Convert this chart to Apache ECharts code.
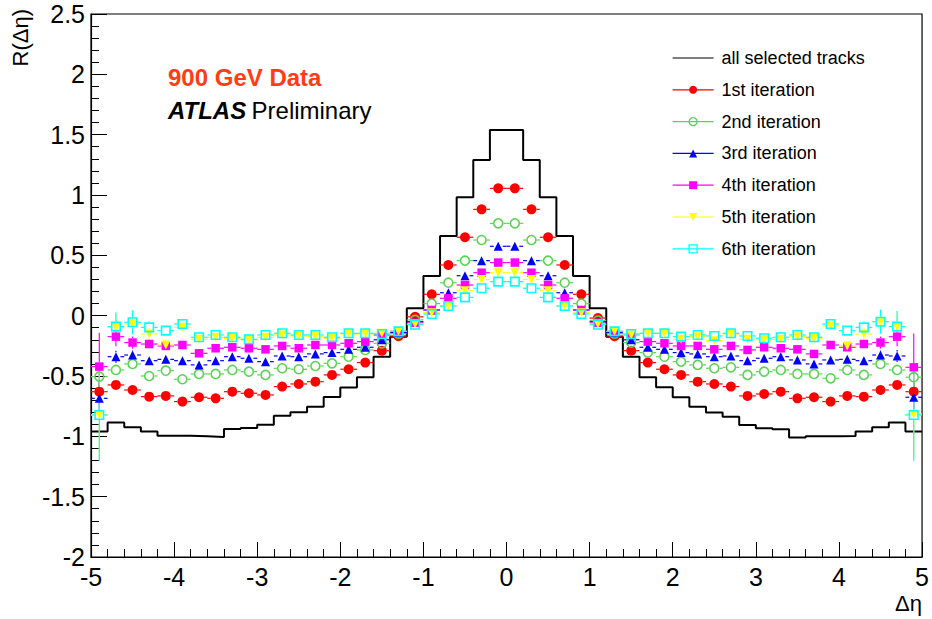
<!DOCTYPE html>
<html>
<head>
<meta charset="utf-8">
<script src="https://cdn.jsdelivr.net/npm/echarts@6/dist/echarts.min.js"></script>
<style>
html,body{margin:0;padding:0;background:#fff;}
#chart{width:932px;height:619px;}
</style>
</head>
<body>
<div id="chart"></div>
<script>
// ---------------- data ----------------
const binCenters = [-4.9,-4.7,-4.5,-4.3,-4.1,-3.9,-3.7,-3.5,-3.3,-3.1,-2.9,-2.7,-2.5,-2.3,-2.1,-1.9,-1.7,-1.5,-1.3,-1.1,-0.9,-0.7,-0.5,-0.3,-0.1,
                    0.1,0.3,0.5,0.7,0.9,1.1,1.3,1.5,1.7,1.9,2.1,2.3,2.5,2.7,2.9,3.1,3.3,3.5,3.7,3.9,4.1,4.3,4.5,4.7,4.9];
const binWidth = 0.2;

const allTracks = [-0.96,-0.885,-0.925,-0.96,-0.995,-0.995,-1.0,-1.005,-0.94,-0.93,-0.905,-0.83,-0.80,-0.755,-0.675,-0.595,-0.51,-0.34,-0.174,0.061,0.329,0.66,0.981,1.29,1.538,
                   1.538,1.29,0.981,0.66,0.329,0.061,-0.174,-0.34,-0.51,-0.593,-0.676,-0.754,-0.803,-0.837,-0.906,-0.933,-0.941,-1.01,-1.0,-1.0,-0.997,-0.96,-0.925,-0.886,-0.96];

const iter1 = [-0.63,-0.574,-0.616,-0.671,-0.665,-0.712,-0.676,-0.685,-0.63,-0.643,-0.657,-0.588,-0.566,-0.547,-0.491,-0.444,-0.389,-0.29,-0.17,-0.01,0.177,0.42,0.65,0.881,1.055,
               1.055,0.881,0.65,0.42,0.177,-0.02,-0.17,-0.29,-0.389,-0.444,-0.491,-0.547,-0.566,-0.588,-0.665,-0.649,-0.63,-0.685,-0.676,-0.712,-0.665,-0.671,-0.616,-0.574,-0.63];
const iter2 = [-0.505,-0.45,-0.40,-0.50,-0.456,-0.527,-0.483,-0.483,-0.45,-0.464,-0.491,-0.436,-0.444,-0.417,-0.395,-0.34,-0.284,-0.229,-0.15,-0.035,0.10,0.273,0.456,0.627,0.765,
               0.765,0.627,0.456,0.273,0.10,-0.04,-0.15,-0.223,-0.306,-0.34,-0.381,-0.408,-0.436,-0.428,-0.491,-0.464,-0.45,-0.483,-0.483,-0.519,-0.45,-0.491,-0.40,-0.45,-0.51];
const iter3 = [-0.685,-0.34,-0.326,-0.373,-0.362,-0.373,-0.408,-0.373,-0.34,-0.353,-0.381,-0.334,-0.34,-0.317,-0.306,-0.279,-0.262,-0.20,-0.14,-0.05,0.047,0.19,0.331,0.456,0.575,
               0.575,0.456,0.331,0.19,0.047,-0.05,-0.14,-0.20,-0.262,-0.279,-0.306,-0.317,-0.34,-0.334,-0.373,-0.353,-0.34,-0.367,-0.40,-0.367,-0.362,-0.373,-0.326,-0.334,-0.676];
const iter4 = [-0.422,-0.174,-0.223,-0.235,-0.251,-0.243,-0.312,-0.27,-0.262,-0.27,-0.279,-0.251,-0.27,-0.243,-0.243,-0.229,-0.215,-0.16,-0.13,-0.06,0.047,0.144,0.254,0.356,0.44,
               0.44,0.356,0.254,0.144,0.047,-0.06,-0.13,-0.16,-0.215,-0.229,-0.251,-0.251,-0.279,-0.251,-0.284,-0.262,-0.27,-0.279,-0.317,-0.243,-0.262,-0.235,-0.223,-0.174,-0.428];
const iter5 = [-0.823,-0.097,-0.069,-0.152,-0.243,-0.097,-0.196,-0.179,-0.19,-0.2,-0.179,-0.16,-0.168,-0.174,-0.187,-0.152,-0.152,-0.146,-0.13,-0.07,0.025,0.08,0.207,0.30,0.356,
               0.356,0.30,0.207,0.08,0.025,-0.07,-0.13,-0.16,-0.146,-0.146,-0.196,-0.174,-0.207,-0.152,-0.196,-0.2,-0.196,-0.174,-0.19,-0.085,-0.251,-0.152,-0.05,-0.091,-0.815];
const iter6 = [-0.823,-0.091,-0.055,-0.097,-0.124,-0.069,-0.179,-0.16,-0.179,-0.196,-0.16,-0.146,-0.16,-0.16,-0.179,-0.146,-0.146,-0.152,-0.13,-0.075,0.014,0.08,0.152,0.227,0.282,
               0.282,0.227,0.152,0.08,0.014,-0.075,-0.13,-0.152,-0.146,-0.146,-0.174,-0.16,-0.168,-0.146,-0.168,-0.187,-0.179,-0.16,-0.179,-0.069,-0.124,-0.097,-0.05,-0.091,-0.823];

// vertical (statistical) errors per bin
const err1 = [0.08,0.03,0.02,0.02,0.02,0.02,0.02,0.02,0.02,0.02,0.02,0.02,0.02,0.02,0.02,0.02,0.02,0.02,0.02,0.02,0.02,0.02,0.02,0.02,0.02,
              0.02,0.02,0.02,0.02,0.02,0.02,0.02,0.02,0.02,0.02,0.02,0.02,0.02,0.02,0.02,0.02,0.02,0.02,0.02,0.02,0.02,0.02,0.02,0.03,0.08];
const err2 = [0.10,0.04,0.03,0.02,0.02,0.02,0.02,0.02,0.02,0.02,0.02,0.02,0.02,0.02,0.02,0.02,0.02,0.02,0.02,0.02,0.02,0.02,0.02,0.02,0.02,
              0.02,0.02,0.02,0.02,0.02,0.02,0.02,0.02,0.02,0.02,0.02,0.02,0.02,0.02,0.02,0.02,0.02,0.02,0.02,0.02,0.02,0.02,0.03,0.04,0.10];
const err3 = [0.13,0.05,0.04,0.02,0.02,0.02,0.02,0.02,0.02,0.02,0.02,0.02,0.02,0.02,0.02,0.02,0.02,0.02,0.02,0.02,0.02,0.02,0.02,0.02,0.02,
              0.02,0.02,0.02,0.02,0.02,0.02,0.02,0.02,0.02,0.02,0.02,0.02,0.02,0.02,0.02,0.02,0.02,0.02,0.02,0.02,0.02,0.02,0.04,0.05,0.13];
const err4 = [0.28,0.08,0.05,0.03,0.02,0.02,0.02,0.02,0.02,0.02,0.02,0.02,0.02,0.02,0.02,0.02,0.02,0.02,0.02,0.02,0.02,0.02,0.02,0.02,0.02,
              0.02,0.02,0.02,0.02,0.02,0.02,0.02,0.02,0.02,0.02,0.02,0.02,0.02,0.02,0.02,0.02,0.02,0.02,0.02,0.02,0.02,0.03,0.05,0.08,0.28];
const err5 = [0.36,0.11,0.09,0.05,0.04,0.03,0.02,0.02,0.02,0.02,0.02,0.02,0.02,0.02,0.02,0.02,0.02,0.02,0.02,0.02,0.02,0.02,0.02,0.02,0.02,
              0.02,0.02,0.02,0.02,0.02,0.02,0.02,0.02,0.02,0.02,0.02,0.02,0.02,0.02,0.02,0.02,0.02,0.02,0.02,0.03,0.04,0.05,0.09,0.11,0.36];
const err6 = [0.38,0.12,0.10,0.05,0.04,0.03,0.02,0.02,0.02,0.02,0.02,0.02,0.02,0.02,0.02,0.02,0.02,0.02,0.02,0.02,0.02,0.02,0.02,0.02,0.02,
              0.02,0.02,0.02,0.02,0.02,0.02,0.02,0.02,0.02,0.02,0.02,0.02,0.02,0.02,0.02,0.02,0.02,0.02,0.02,0.03,0.04,0.05,0.10,0.13,0.38];

const xTickValues = [-5,-4,-3,-2,-1,0,1,2,3,4,5];
const yTickValues = [-2,-1.5,-1,-0.5,0,0.5,1,1.5,2,2.5];

const seriesNames = ['1st iteration','2nd iteration','3rd iteration','4th iteration','5th iteration','6th iteration'];
const histName = 'all selected tracks';

// ---------------- styles ----------------
const FONT = "'Liberation Sans', Arial, Helvetica, sans-serif";
const styles = [
  {color:'#ff0000', symbol:'circle',   size:10, hollow:false, rotate:0},
  {color:'#59d454', symbol:'circle',   size:9,  hollow:true,  rotate:0},
  {color:'#0000ff', symbol:'triangle', size:9,  hollow:false, rotate:0},
  {color:'#ff00ff', symbol:'rect',     size:8.5,hollow:false, rotate:0},
  {color:'#ffff00', symbol:'triangle', size:9,  hollow:false, rotate:180},
  {color:'#00ffff', symbol:'rect',     size:8.5,hollow:true,  rotate:0}
];
const values = [iter1, iter2, iter3, iter4, iter5, iter6];
const errors = [err1, err2, err3, err4, err5, err6];

// histogram as step line built from bin edges
const histData = binCenters.map((c, i) => [c - binWidth / 2, allTracks[i]]);
histData.push([binCenters[binCenters.length - 1] + binWidth / 2, allTracks[allTracks.length - 1]]);

const series = [{
  name: histName, type: 'line', step: 'end', data: histData,
  symbol: 'none', silent: true, animation: false,
  lineStyle: {color: '#000', width: 2}, itemStyle: {color: '#000'}, z: 2
}];

styles.forEach((st, k) => {
  const gap = st.size / 2 + (st.hollow ? 0.8 : 0);
  series.push({
    type: 'custom', silent: true, animation: false, clip: true, z: 3,
    data: binCenters.map((x, i) => [x, values[k][i], errors[k][i]]),
    encode: {x: 0, y: 1},
    renderItem: function (params, api) {
      const x = api.value(0), y = api.value(1), e = api.value(2);
      const c = api.coord([x, y]);
      const l = api.coord([x - binWidth / 2, y]);
      const r = api.coord([x + binWidth / 2, y]);
      const t = api.coord([x, y + e]);
      const b = api.coord([x, y - e]);
      const ch = [];
      const ls = {stroke: st.color, lineWidth: 1.2};
      if (c[0] - l[0] > gap) ch.push({type: 'line', shape: {x1: l[0], y1: c[1], x2: c[0] - gap, y2: c[1]}, style: ls});
      if (r[0] - c[0] > gap) ch.push({type: 'line', shape: {x1: c[0] + gap, y1: c[1], x2: r[0], y2: c[1]}, style: ls});
      if (c[1] - t[1] > gap) ch.push({type: 'line', shape: {x1: c[0], y1: t[1], x2: c[0], y2: c[1] - gap}, style: ls});
      if (b[1] - c[1] > gap) ch.push({type: 'line', shape: {x1: c[0], y1: c[1] + gap, x2: c[0], y2: b[1]}, style: ls});
      return {type: 'group', children: ch};
    }
  });
  series.push({
    name: seriesNames[k], type: 'line', silent: true, animation: false, z: 4,
    data: binCenters.map((x, i) => [x, values[k][i]]),
    symbol: st.symbol, symbolSize: st.size, symbolRotate: st.rotate, showSymbol: true,
    lineStyle: {opacity: 0, width: 0},
    itemStyle: st.hollow ? {color: 'rgba(255,255,255,0)', borderColor: st.color, borderWidth: 1.6}
                         : {color: st.color, borderWidth: 0}
  });
});

const legendData = [{name: histName, itemStyle: {opacity: 0}, lineStyle: {color: '#000', width: 1.2, opacity: 1}}]
  .concat(styles.map((st, k) => ({
    name: seriesNames[k],
    itemStyle: st.hollow ? {color: 'rgba(255,255,255,0)', borderColor: st.color, borderWidth: 1.3, opacity: 1}
                         : {color: st.color, borderWidth: 0, opacity: 1},
    lineStyle: {color: st.color, width: 1.2, opacity: 1}
  })));

const chart = echarts.init(document.getElementById('chart'), null, {renderer: 'svg'});
chart.setOption({
  animation: false,
  backgroundColor: '#fff',
  grid: {left: 91, right: 8, top: 14, bottom: 62, show: true, borderColor: '#000', borderWidth: 1.2, backgroundColor: 'transparent'},
  xAxis: {
    type: 'value', min: xTickValues[0], max: xTickValues[xTickValues.length - 1], interval: 1,
    axisLine: {show: true, onZero: false, lineStyle: {color: '#000', width: 1.2}},
    axisTick: {show: true, inside: true, length: 15, lineStyle: {color: '#000', width: 1}},
    minorTick: {show: true, splitNumber: 5, length: 8, lineStyle: {color: '#000', width: 1}},
    splitLine: {show: false},
    axisLabel: {color: '#000', fontSize: 25, fontFamily: FONT, margin: 7, showMinLabel: true, showMaxLabel: true}
  },
  yAxis: {
    type: 'value', min: yTickValues[0], max: yTickValues[yTickValues.length - 1], interval: 0.5,
    axisLine: {show: true, onZero: false, lineStyle: {color: '#000', width: 1.2}},
    axisTick: {show: true, inside: true, length: 16, lineStyle: {color: '#000', width: 1}},
    minorTick: {show: true, splitNumber: 5, length: 8, lineStyle: {color: '#000', width: 1}},
    splitLine: {show: false},
    axisLabel: {color: '#000', fontSize: 25, fontFamily: FONT, margin: 6, showMinLabel: true, showMaxLabel: true}
  },
  legend: {
    orient: 'vertical', left: 672, top: 49, padding: 0, itemWidth: 41, itemHeight: 10, itemGap: 13.8,
    selectedMode: false,
    textStyle: {color: '#000', fontSize: 18, fontFamily: FONT, padding: [0, 0, 0, 3]},
    data: legendData
  },
  graphic: [
    {type: 'text', x: 168, y: 77.5, silent: true,
     style: {text: '900 GeV Data', font: 'bold 24px ' + FONT, fill: '#ff3c14', textVerticalAlign: 'middle'}},
    {type: 'text', x: 168, y: 110.8, silent: true,
     style: {text: '{a|ATLAS} {b|Preliminary}', textVerticalAlign: 'middle',
             rich: {a: {fontSize: 24, fontWeight: 'bold', fontStyle: 'italic', fontFamily: FONT, fill: '#000', padding: [0, 2, 0, 0]},
                    b: {fontSize: 24, fontFamily: FONT, fill: '#000'}}}},
    {type: 'text', x: 20, y: 9, rotation: Math.PI / 2, silent: true,
     style: {text: 'R(Δη)', font: '22px ' + FONT, fill: '#000', textAlign: 'right', textVerticalAlign: 'middle'}},
    {type: 'text', x: 922, y: 603, silent: true,
     style: {text: 'Δη', font: '22px ' + FONT, fill: '#000', textAlign: 'right', textVerticalAlign: 'middle'}}
  ],
  series: series
});
</script>
</body>
</html>
